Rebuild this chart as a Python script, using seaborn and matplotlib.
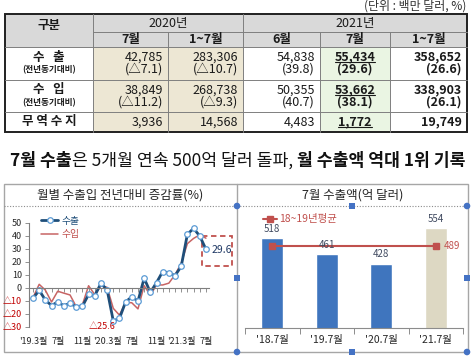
import matplotlib
matplotlib.use('Agg')
import matplotlib.pyplot as plt
import seaborn as sns
import numpy as np
import pandas as pd
from matplotlib.patches import Rectangle, Circle
from matplotlib.lines import Line2D

sns.set_theme(style='white')
plt.rcParams['font.family'] = ['Noto Sans CJK KR', 'DejaVu Sans']
plt.rcParams['axes.unicode_minus'] = False

# ---------------- data ----------------
unit_text = "(단위 : 백만 달러, %)"
corner_label = "구분"
year_headers = ["2020년", "2021년"]
period_headers = ["7월", "1~7월", "6월", "7월", "1~7월"]
row_labels = ["수   출", "수   입", "무 역 수 지"]
sub_label = "(전년동기대비)"
export_vals = ["42,785", "283,306", "54,838", "55,434", "358,652"]
export_chg = ["(△7.1)", "(△10.7)", "(39.8)", "(29.6)", "(26.6)"]
import_vals = ["38,849", "268,738", "50,355", "53,662", "338,903"]
import_chg = ["(△11.2)", "(△9.3)", "(40.7)", "(38.1)", "(26.1)"]
balance_vals = ["3,936", "14,568", "4,483", "1,772", "19,749"]

headline_parts = [("7월 수출", "bold"), ("은 5개월 연속 500억 달러 돌파, ", "normal"),
                  ("월 수출액 역대 1위 기록", "bold")]

line_title = "월별 수출입 전년대비 증감률(%)"
months = list(range(29))
month_tick_pos = [0, 4, 8, 12, 16, 20, 24, 28]
month_tick_labels = ["'19.3월", "7월", "11월", "'20.3월", "7월", "11월", "'21.3월", "7월"]
export_growth = [-8.2, -2.0, -9.5, -13.7, -11.0, -13.9, -11.9, -14.8, -14.3, -5.2,
                 -6.1, 3.3, -1.6, -25.6, -23.6, -10.9, -7.0, -10.3, 7.3, -3.6, 3.9, 12.4,
                 11.4, 9.3, 16.4, 41.1, 45.6, 39.8, 29.6]
import_growth = [-7.5, 2.6, -1.9, -11.0, -2.7, -4.2, -5.6, -14.6, -13.0, 1.5,
                 -5.3, 1.4, 0.3, -15.9, -21.1, -11.3, -11.6, -16.3, 1.6, -5.8, 2.1, 2.1,
                 3.5, 10.0, 18.8, 33.9, 37.9, 40.7, 38.1]
y_ticks = [50, 40, 30, 20, 10, 0, -10, -20, -30]
y_tick_labels = ["50", "40", "30", "20", "10", "0", "△10", "△20", "△30"]
series_names = ["수출", "수입"]
min_label = "△25.6"
last_label = "29.6"

bar_title = "7월 수출액(억 달러)"
bar_cats = ["'18.7월", "'19.7월", "'20.7월", "'21.7월"]
bar_vals = [518, 461, 428, 554]
avg_label = "18~19년평균"
avg_val = 489

# ---------------- figure ----------------
W, H = 474, 361
fig = plt.figure(figsize=(W / 100, H / 100), dpi=100)
fig.patch.set_facecolor('white')
bg = fig.add_axes([0, 0, 1, 1], zorder=0)
bg.set_xlim(0, W)
bg.set_ylim(H, 0)
bg.axis('off')

# ---- table ----
xs = [5, 93, 168, 243, 320, 390, 467]
ys = [14, 32, 47, 80, 112, 132]
grey = '#D9D9D9'
beige = '#EDE7D4'
green = '#EAF5E3'
bg.add_patch(Rectangle((xs[0], ys[0]), xs[-1] - xs[0], ys[2] - ys[0], fc=grey, ec='none'))
col_fill = ['white', beige, beige, 'white', green, 'white']
for c in range(6):
    bg.add_patch(Rectangle((xs[c], ys[2]), xs[c + 1] - xs[c], ys[-1] - ys[2],
                           fc=col_fill[c], ec='none'))
lc = '#7F7F7F'
bg.plot([xs[1], xs[-1]], [ys[1], ys[1]], color=lc, lw=0.7)
for yy in ys[2:-1]:
    bg.plot([xs[0], xs[-1]], [yy, yy], color=lc, lw=0.7)
for xx in [xs[1], xs[3]]:
    bg.plot([xx, xx], [ys[0], ys[-1]], color=lc, lw=0.7)
for xx in [xs[2], xs[4], xs[5]]:
    bg.plot([xx, xx], [ys[1], ys[-1]], color=lc, lw=0.7)
bg.add_patch(Rectangle((xs[0], ys[0]), xs[-1] - xs[0], ys[-1] - ys[0], fc='none',
                       ec='#202020', lw=1.4))

tc = '#1A1A1A'
bg.text(xs[-1] - 1, 6, unit_text, ha='right', va='center', fontsize=8.6, color='#333333')
bg.text((xs[0] + xs[1]) / 2, 26, corner_label, ha='center', va='center', fontsize=9,
        fontweight='bold', color=tc)
bg.text((xs[1] + xs[3]) / 2, 23, year_headers[0], ha='center', va='center', fontsize=9, color=tc)
bg.text((xs[3] + xs[6]) / 2, 23, year_headers[1], ha='center', va='center', fontsize=9, color=tc)
for c, lab in enumerate(period_headers):
    bg.text((xs[c + 1] + xs[c + 2]) / 2, 40, lab, ha='center', va='center', fontsize=9,
            fontweight='bold', color=tc)

bg.text((xs[0] + xs[1]) / 2, 57, row_labels[0], ha='center', va='center', fontsize=9,
        fontweight='bold', color=tc)
bg.text((xs[0] + xs[1]) / 2, 70, sub_label, ha='center', va='center', fontsize=6.2,
        fontweight='bold', color=tc)
bg.text((xs[0] + xs[1]) / 2, 90, row_labels[1], ha='center', va='center', fontsize=9,
        fontweight='bold', color=tc)
bg.text((xs[0] + xs[1]) / 2, 103, sub_label, ha='center', va='center', fontsize=6.2,
        fontweight='bold', color=tc)
bg.text((xs[0] + xs[1]) / 2, 122, row_labels[2], ha='center', va='center', fontsize=9,
        fontweight='bold', color=tc)

underlined = []
rows = [(export_vals, 57), (export_chg, 69), (import_vals, 90), (import_chg, 102),
        (balance_vals, 122)]
for vals, yy in rows:
    for c, v in enumerate(vals):
        col = c + 1
        weight = 'bold' if col >= 4 else 'normal'
        if col == 4:
            t = bg.text((xs[col] + xs[col + 1]) / 2, yy, v, ha='center', va='center',
                        fontsize=9, fontweight=weight, color=tc)
            if not v.startswith('('):
                underlined.append(t)
        else:
            bg.text(xs[col + 1] - 5, yy, v, ha='right', va='center', fontsize=9,
                    fontweight=weight, color=tc)

# ---- headline ----
renderer = fig.canvas.get_renderer()
hl_y = 161
fs = 12
def place_headline(fs):
    objs = []
    x = 10
    for txt, w in headline_parts:
        t = bg.text(x, hl_y, txt, ha='left', va='center', fontsize=fs, fontweight=w, color='#111111')
        bb = t.get_window_extent(renderer)
        x += bb.width
        objs.append(t)
    return objs, x
objs, xend = place_headline(fs)
scale = (465 - 10) / (xend - 10)
for o in objs:
    o.remove()
objs, xend = place_headline(fs * scale)

# ---- chart frames ----
fc = '#A6A6A6'
bg.add_patch(Rectangle((4, 184), 464, 168, fc='none', ec=fc, lw=1))
bg.plot([237, 237], [184, 352], color=fc, lw=1)
bg.plot([4, 237], [206, 206], color='#8C8C8C', lw=0.8, ls=(0, (1, 1.5)))
bg.plot([237, 468], [206, 206], color='#8C8C8C', lw=0.8, ls=(0, (1, 1.5)))
hc = '#4472C4'
for (cx, cy) in [(237, 206), (467, 206), (237, 352), (467, 352)]:
    bg.add_patch(Circle((cx, cy), 3.3, fc=hc, ec='none', zorder=5))
for (cx, cy) in [(352, 206), (237, 278), (467, 278), (352, 352)]:
    bg.add_patch(Rectangle((cx - 3, cy - 3), 6, 6, fc=hc, ec='none', zorder=5))
bg.text(120, 195, line_title, ha='center', va='center', fontsize=9, color='#262626')
bg.text(353, 195, bar_title, ha='center', va='center', fontsize=9, color='#262626')
bg.add_patch(Rectangle((202, 236), 30, 30, fill=False, ls=(0, (3, 2)), ec='#C0504D', lw=1.3))

# ---- line chart ----
axL = fig.add_axes([29 / W, (H - 326.7) / H, 180 / W, 104 / H], zorder=2)
axL.patch.set_alpha(0)
exp_c = '#1F4E79'
imp_c = '#C86464'
sns.lineplot(x=months, y=import_growth, ax=axL, color=imp_c, lw=1.1, label=series_names[1])
sns.lineplot(x=months, y=export_growth, ax=axL, color=exp_c, lw=2.0, marker='o', markersize=4,
             markerfacecolor='white', markeredgecolor='#5B9BD5', markeredgewidth=0.9,
             label=series_names[0])
axL.set_xlim(-0.65, 28.5)
axL.set_ylim(-30, 50)
for s in ['top', 'right']:
    axL.spines[s].set_visible(False)
axL.spines['left'].set_color('#7F7F7F')
axL.spines['bottom'].set_color('#7F7F7F')
axL.spines['left'].set_linewidth(0.8)
axL.spines['bottom'].set_linewidth(0.8)
axL.spines['bottom'].set_position(('data', 0))
axL.set_xticks(months)
axL.set_xticklabels([])
axL.tick_params(axis='x', length=3, width=0.6, color='#7F7F7F', direction='out', bottom=True)
axL.set_yticks(y_ticks)
axL.set_yticklabels(y_tick_labels, fontsize=6.5)
axL.tick_params(axis='y', length=3, width=0.6, color='#7F7F7F', left=True, pad=2)
for lab, v in zip(axL.get_yticklabels(), y_ticks):
    lab.set_color('#C00000' if v < 0 else '#262626')
for p, lab in zip(month_tick_pos, month_tick_labels):
    axL.annotate(lab, (p, -30), xytext=(0, -11), textcoords='offset points', ha='center',
                 va='center', fontsize=6.5, color='#262626', annotation_clip=False)
i_min = int(np.argmin(export_growth))
axL.annotate(min_label, (i_min, export_growth[i_min]), xytext=(-8, -4), textcoords='offset points',
             ha='center', va='center', fontsize=6.5, color='#C00000')
axL.annotate(last_label, (months[-1], export_growth[-1]), xytext=(11.5, -0.8),
             textcoords='offset points', ha='center', va='center', fontsize=7.5,
             color='#1F3864', annotation_clip=False)
h, l = axL.get_legend_handles_labels()
order = [l.index(series_names[0]), l.index(series_names[1])]
axL.legend([h[i] for i in order], [l[i] for i in order], loc='upper left',
           bbox_to_anchor=(36 / W, 1 - 211 / H), bbox_transform=fig.transFigure,
           frameon=False, fontsize=7, handlelength=1.8, labelspacing=0.35, borderpad=0,
           handletextpad=0.3, labelcolor=['#1F4E79', '#C0504D'])

# ---- bar chart ----
axR = fig.add_axes([245 / W, (H - 328) / H, 218 / W, 113 / H], zorder=2)
axR.patch.set_alpha(0)
sns.barplot(x=bar_cats, y=bar_vals, hue=bar_cats, palette=['#3F75BE', '#3F75BE', '#3F75BE', '#DDD8C3'],
            width=0.4, legend=False, ax=axR, saturation=1)
axR.set_ylim(200, 600)
axR.set_xlim(-0.5, 3.5)
for s in ['top', 'right', 'left']:
    axR.spines[s].set_visible(False)
axR.spines['bottom'].set_color('#8C8C8C')
axR.spines['bottom'].set_linewidth(0.8)
axR.set_yticks([])
axR.set_xticks([-0.5, 0.5, 1.5, 2.5, 3.5])
axR.set_xticklabels([])
axR.set_xticks(range(len(bar_cats)), minor=True)
axR.set_xticklabels(bar_cats, minor=True, fontsize=7.5, color='#262626')
axR.tick_params(axis='x', which='major', length=4, width=0.7, color='#8C8C8C', bottom=True)
axR.tick_params(axis='x', which='minor', length=0, pad=5)
axR.set_xlabel('')
for cont in axR.containers:
    axR.bar_label(cont, padding=3, fontsize=7, color='#404A60')
axR.plot([0, len(bar_cats) - 1], [avg_val, avg_val], color='#C0504D', lw=1.5, marker='s',
         markersize=4.5, label=avg_label)
axR.annotate(str(avg_val), (len(bar_cats) - 1, avg_val), xytext=(6, 0), textcoords='offset points',
             ha='left', va='center', fontsize=7, color='#C0504D')
axR.legend(loc='upper left', bbox_to_anchor=(258 / W, 1 - 209 / H), bbox_transform=fig.transFigure,
           frameon=False, fontsize=7.5, handlelength=1.3, borderpad=0, handletextpad=0.2,
           labelcolor='#C0504D')

# ---- underlines ----
inv = bg.transData.inverted()
for t in underlined:
    bb = t.get_window_extent(renderer)
    (x0, y0) = inv.transform((bb.x0, bb.y0))
    (x1, _) = inv.transform((bb.x1, bb.y0))
    bg.plot([x0, x1], [y0 - 1.5, y0 - 1.5], color=tc, lw=0.8)

fig.savefig('out.png', dpi=100, facecolor='white')
